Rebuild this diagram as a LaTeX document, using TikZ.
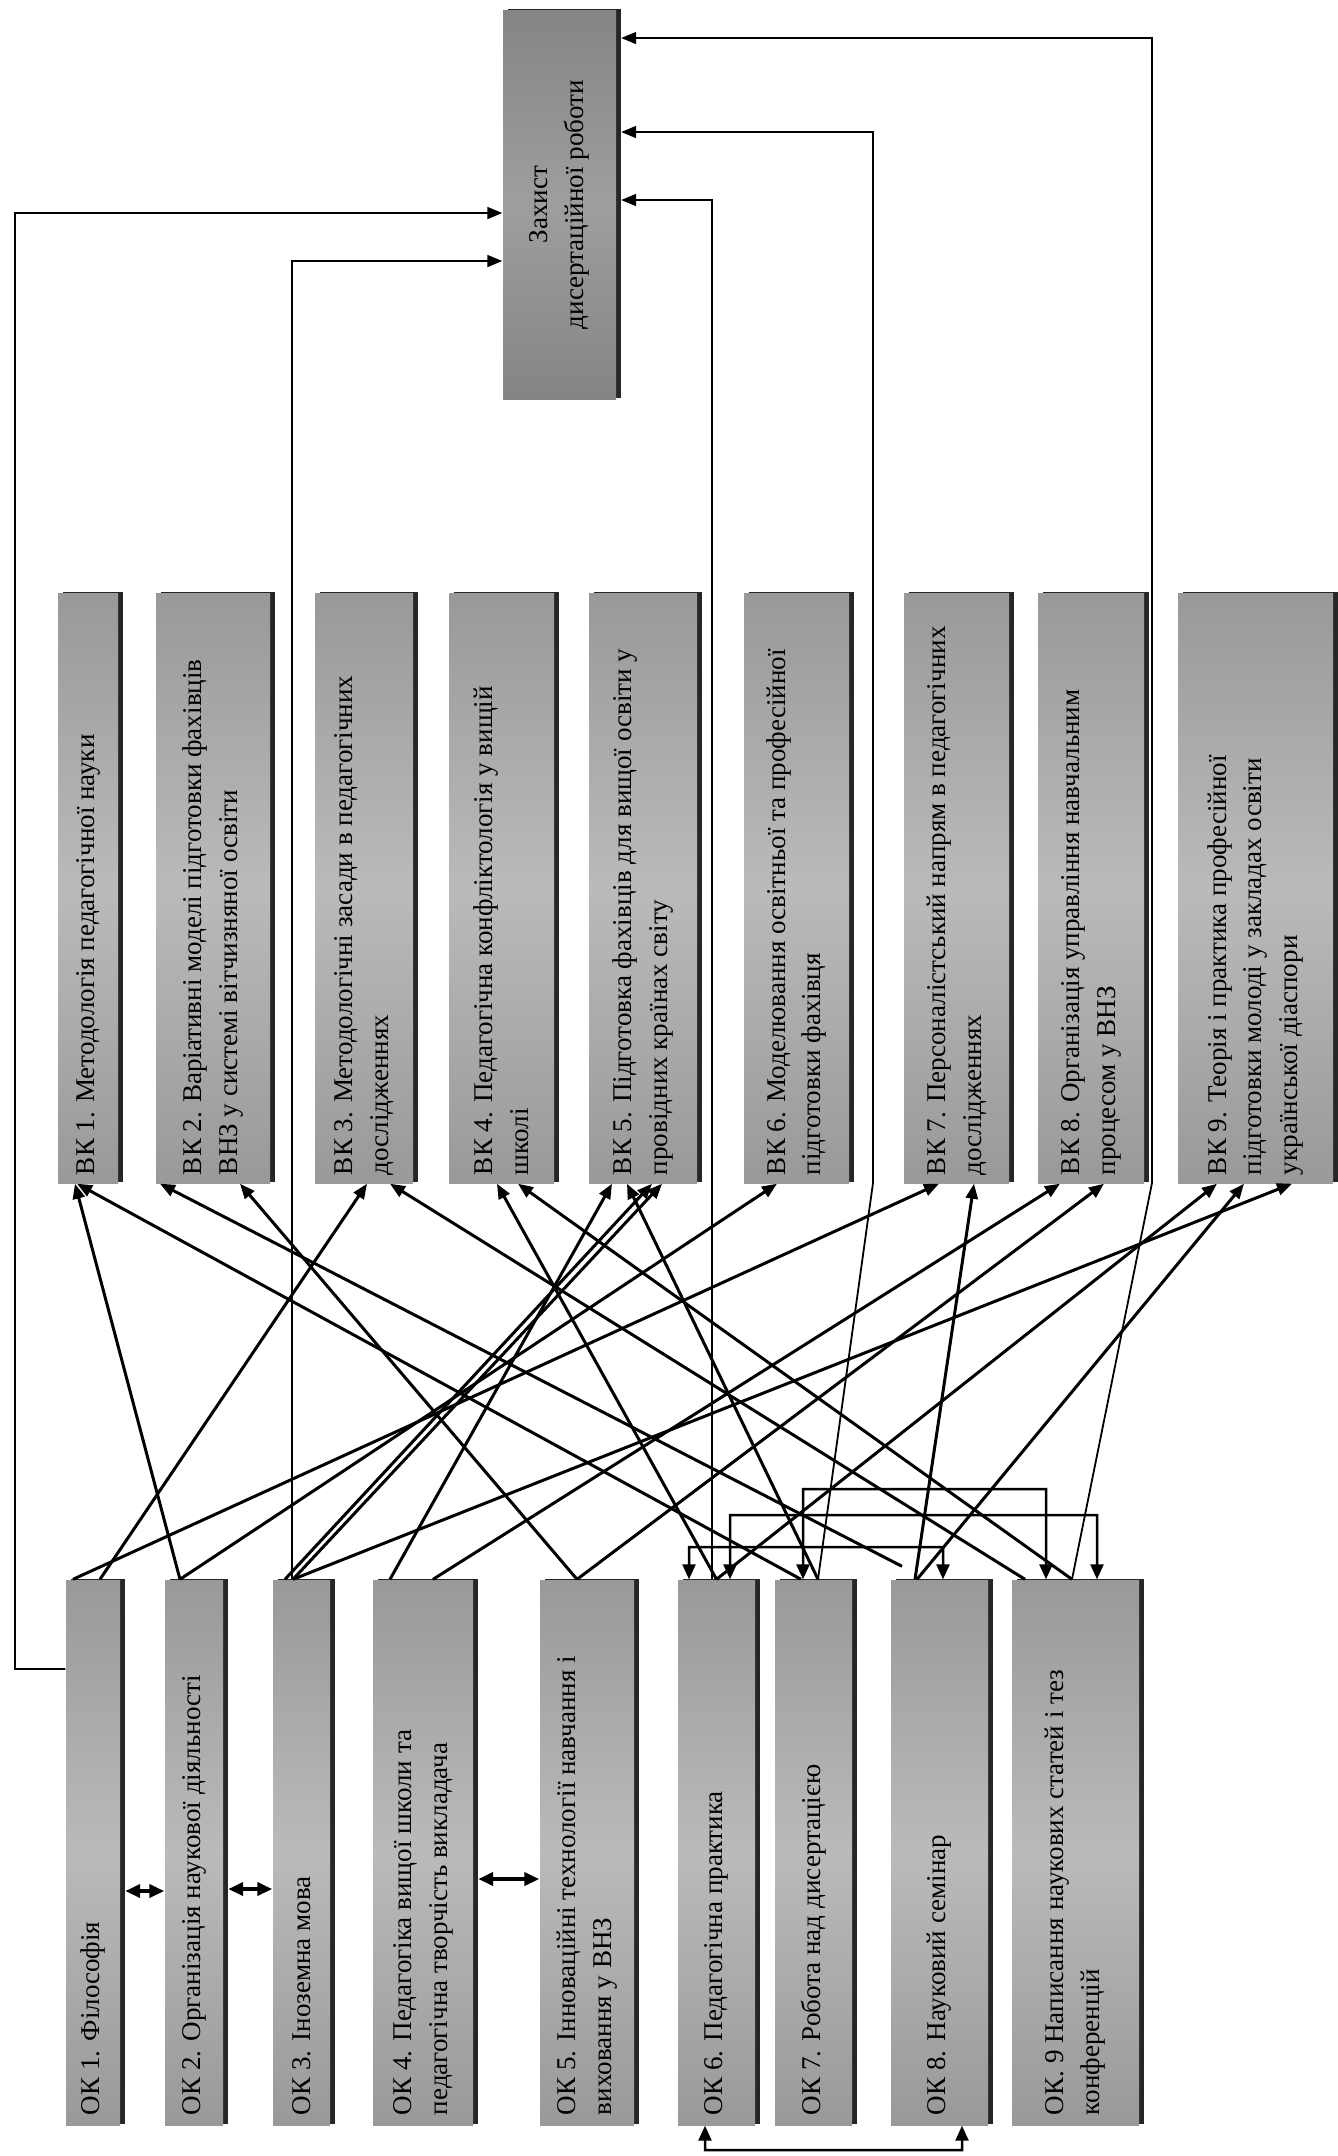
\documentclass[tikz,border=0pt]{standalone}
\usepackage{fontspec}
\setmainfont{Liberation Serif}
\usepackage{graphicx}
\usetikzlibrary{arrows.meta,shadows}
\newcommand{\boxtext}[2]{\rotatebox{90}{\parbox{#1}{\raggedright #2}}}

\begin{document}
\begin{tikzpicture}[x=0.1mm, y=-0.1mm,
    course/.style={inner sep=0pt, top color=black!40, bottom color=black!40, middle color=black!27,
        drop shadow={shadow xshift=0.45mm, shadow yshift=0.15mm, fill=black!85, opacity=1},
        font=\fontsize{7.7}{10.2}\selectfont},
    vk/.style={course, minimum height=59mm},
    ok/.style={course, minimum height=54.5mm},
    link/.style={-{Triangle[length=1.5mm, width=1.2mm]}, line width=0.3mm},
    goal/.style={-{Triangle[length=1.5mm, width=1.2mm]}, line width=0.18mm},
    pair/.style={{Triangle[length=1.5mm, width=1.3mm]}-{Triangle[length=1.5mm, width=1.3mm]}, line width=0.25mm}]
    \fill[white] (0,0) rectangle (1337,2156);
    \useasboundingbox (0,0) rectangle (1337,2156);

    %Nodes
    \node[course, minimum width=11.3mm, minimum height=38.9mm, top color=black!48, bottom color=black!48, middle color=black!38] (zah) at (559.5,204.5)
        {\rotatebox{90}{\parbox{37mm}{\centering Захист\\дисертаційної роботи}}};

    \node[vk, minimum width=6mm] (vk1) at (88,888) {\boxtext{57.4mm}{ВК 1. Методологія педагогічної науки}};
    \node[vk, minimum width=11.4mm] (vk2) at (213,888) {\boxtext{57.4mm}{ВК 2. Варіативні моделі підготовки фахівців\\ВНЗ у системі вітчизняної освіти}};
    \node[vk, minimum width=9.8mm] (vk3) at (364,888) {\boxtext{57.4mm}{ВК 3. Методологічні засади в педагогічних\\дослідженнях}};
    \node[vk, minimum width=10.5mm] (vk4) at (501.5,888) {\boxtext{57.4mm}{ВК 4. Педагогічна конфліктологія у вищій\\школі}};
    \node[vk, minimum width=10.8mm] (vk5) at (643,888) {\boxtext{57.4mm}{ВК 5. Підготовка фахівців для вищої освіти у\\провідних країнах світу}};
    \node[vk, minimum width=10.5mm] (vk6) at (796.5,888) {\boxtext{57.4mm}{ВК 6. Моделювання освітньої та професійної\\підготовки фахівця}};
    \node[vk, minimum width=10.5mm] (vk7) at (956.5,888) {\boxtext{57.4mm}{ВК 7. Персоналістський напрям в педагогічних\\дослідженнях}};
    \node[vk, minimum width=10.6mm] (vk8) at (1091,888) {\boxtext{57.4mm}{ВК 8. Організація управління навчальним\\процесом у ВНЗ}};
    \node[vk, minimum width=15.5mm] (vk9) at (1255.5,888) {\boxtext{57.4mm}{ВК 9. Теорія і практика професійної\\підготовки молоді у закладах освіти\\української діаспори}};

    \node[ok, minimum width=5.4mm] (ok1) at (93,1852.5) {\boxtext{52.5mm}{ОК 1. Філософія}};
    \node[ok, minimum width=5.8mm] (ok2) at (194,1852.5) {\boxtext{52.5mm}{ОК 2. Організація наукової діяльності}};
    \node[ok, minimum width=5.7mm] (ok3) at (301.5,1852.5) {\boxtext{52.5mm}{ОК 3. Іноземна мова}};
    \node[ok, minimum width=10mm] (ok4) at (423,1852.5) {\boxtext{52.5mm}{ОК 4. Педагогіка вищої школи та\\педагогічна творчість викладача}};
    \node[ok, minimum width=9.4mm] (ok5) at (587,1852.5) {\boxtext{52.5mm}{ОК 5. Інноваційні технології навчання і\\виховання у ВНЗ}};
    \node[ok, minimum width=7.7mm] (ok6) at (716.5,1852.5) {\boxtext{52.5mm}{ОК 6. Педагогічна практика}};
    \node[ok, minimum width=7.7mm] (ok7) at (813.5,1852.5) {\boxtext{52.5mm}{ОК 7. Робота над дисертацією}};
    \node[ok, minimum width=9.7mm] (ok8) at (939.5,1852.5) {\boxtext{52.5mm}{ОК 8. Науковий семінар}};
    \node[ok, minimum width=12.7mm] (ok9) at (1075.5,1852.5) {\boxtext{52.5mm}{ОК. 9 Написання наукових статей і тез\\конференцій}};

    %Lines
    \draw[link] ([xshift=-2mm]ok1.north) -- ([xshift=-1.75mm]vk7.south);
    \draw[link] ([xshift=0.7mm]ok1.north) -- ([xshift=0.3mm]vk3.south);
    \draw[link] ([xshift=-1.4mm]ok2.north) -- ([xshift=-1.3mm]vk1.south);
    \draw[link] ([xshift=-1.4mm]ok2.north) -- ([xshift=-1.95mm]vk6.south);
    \draw[link] ([xshift=-1.65mm]ok3.north) -- ([xshift=0.9mm]vk5.south);
    \draw[link] ([xshift=-0.85mm]ok3.north) -- ([xshift=1.9mm]vk5.south);
    \draw[link] ([xshift=-0.85mm]ok3.north) -- ([xshift=3.65mm]vk9.south);
    \draw[link] ([xshift=-3.3mm]ok4.north) -- ([xshift=-3.1mm]vk5.south);
    \draw[link] ([xshift=1mm]ok4.north) -- ([xshift=-3.1mm]vk8.south);
    \draw[link] ([xshift=-1mm]ok5.north) -- ([xshift=2.7mm]vk2.south);
    \draw[link] ([xshift=-1mm]ok5.north) -- ([xshift=1.3mm]vk8.south);
    \draw[link] (ok6.north) -- ([xshift=-0.45mm]vk4.south);
    \draw[link] (ok6.north) -- ([xshift=-3.85mm]vk9.south);
    \draw[link] ([xshift=-1.25mm]ok7.north) -- ([xshift=-1.1mm]vk1.south);
    \draw[link] ([xshift=0.45mm]ok7.north) -- ([xshift=-1.6mm]vk5.south);
    \draw[link] ([shift={(-3.75mm,1.3mm)}]ok8.north) -- ([xshift=-5.3mm]vk2.south);
    \draw[link] ([xshift=-2.45mm]ok8.north) -- ([xshift=1.75mm]vk7.south);
    \draw[link] ([xshift=-2.25mm]ok8.north) -- ([xshift=-1.15mm]vk9.south);
    \draw[link] ([xshift=-5.05mm]ok9.north) -- ([xshift=2.6mm]vk3.south);
    \draw[link] ([xshift=-0.35mm]ok9.north) -- ([xshift=1.65mm]vk4.south);

    \draw[goal] ([yshift=18.35mm]ok1.west) -- (15,1669) |- ([yshift=-0.85mm]zah.west);
    \draw[goal] ([xshift=-0.95mm]ok3.north) |- ([yshift=-5.65mm]zah.west);
    \draw[goal] ([xshift=-0.45mm]ok6.north) |- ([shift={(0.45mm,0.45mm)}]zah.east);
    \draw[goal] ([xshift=0.45mm]ok7.north) -- (873,1183) |- ([shift={(0.45mm,7.25mm)}]zah.east);
    \draw[goal] ([xshift=-0.35mm]ok9.north) -- (1152,1183) |- ([shift={(0.45mm,16.65mm)}]zah.east);

    \draw[pair] ([xshift=-1.05mm]ok7.north) -- (803,1489) -- (1046,1489) -- ([xshift=-2.95mm]ok9.north);
    \draw[pair] ([xshift=1.35mm]ok6.north) -- (730,1515) -- (1097,1515) -- ([xshift=2.15mm]ok9.north);
    \draw[pair] ([xshift=-2.75mm]ok6.north) -- (689,1547) -- (943,1547) -- ([xshift=0.35mm]ok8.north);
    \draw[pair] ([xshift=-1.15mm]ok6.south) -- (705,2150) -- (962,2150) -- ([xshift=2.25mm]ok8.south);

    \draw[pair, line width=0.4mm] ([shift={(0.45mm,-3.85mm)}]ok1.east) -- ([yshift=-3.85mm]ok2.west);
    \draw[pair, line width=0.4mm] ([shift={(0.45mm,-3.65mm)}]ok2.east) -- ([yshift=-3.65mm]ok3.west);
    \draw[pair, line width=0.4mm] ([shift={(0.45mm,-2.65mm)}]ok4.east) -- ([yshift=-2.65mm]ok5.west);

\end{tikzpicture}
\end{document}
